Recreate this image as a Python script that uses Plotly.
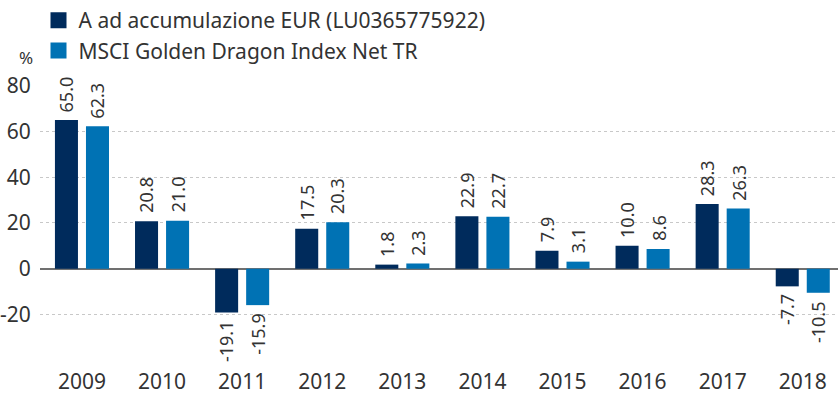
import plotly.graph_objects as go

years = ["2009", "2010", "2011", "2012", "2013", "2014", "2015", "2016", "2017", "2018"]
fund = [65.0, 20.8, -19.1, 17.5, 1.8, 22.9, 7.9, 10.0, 28.3, -7.7]
index = [62.3, 21.0, -15.9, 20.3, 2.3, 22.7, 3.1, 8.6, 26.3, -10.5]
series_names = ["A ad accumulazione EUR (LU0365775922)", "MSCI Golden Dragon Index Net TR"]
colors = ["#002b5c", "#0072b4"]
y_ticks = [-20, 0, 20, 40, 60, 80]

FONT = "Noto Sans"
TEXT = "#333333"
W, H = 838, 398
ML, MR, MT, MB = 40, 0, 84, 40

xpos = list(range(len(years)))

fig = go.Figure()
for k, (name, vals, col) in enumerate(zip(series_names, [fund, index], colors)):
    fig.add_trace(go.Bar(x=xpos, y=vals, name=name, showlegend=False,
                         marker=dict(color=col, line=dict(width=0))))
    # legend swatch
    fig.add_trace(go.Scatter(x=[None], y=[None], name=name, mode="markers",
                             legendgroup=f"g{k}",
                             marker=dict(symbol="square", size=16, color=col)))

# rotated value labels above / below each bar
annotations = []
for vals, dx in [(fund, -15.5), (index, 15.5)]:
    for i, v in zip(xpos, vals):
        pos = v >= 0
        annotations.append(dict(
            x=i, y=v, xref="x", yref="y", text=f"{v:.1f}", showarrow=False,
            textangle=-90, xshift=dx, yshift=6 if pos else -6,
            xanchor="center", yanchor="bottom" if pos else "top",
            font=dict(family=FONT, size=18, color=TEXT)))

annotations.append(dict(text="%", xref="paper", yref="paper",
                        x=(26 - ML) / (W - ML - MR), y=1 + (MT - 56) / (H - MT - MB),
                        xanchor="center", yanchor="middle", showarrow=False,
                        font=dict(size=17, color=TEXT)))

fig.update_layout(
    width=W, height=H,
    margin=dict(l=ML, r=MR, t=MT, b=MB),
    paper_bgcolor="white", plot_bgcolor="white",
    barmode="group", bargap=0.225, bargroupgap=0.258,
    font=dict(family=FONT, size=21, color=TEXT),
    showlegend=True,
    legend=dict(x=(38.5 - ML) / (W - ML - MR), xref="paper", y=1.0, yref="container",
                yanchor="top", xanchor="left", orientation="v",
                font=dict(size=21, color=TEXT), tracegroupgap=2,
                itemclick=False, traceorder="normal", bgcolor="rgba(0,0,0,0)"),
    xaxis=dict(type="linear", range=[-0.524, 9.44], tickvals=xpos, ticktext=years,
               showgrid=False, showline=False, zeroline=False, ticks="",
               tickfont=dict(size=21), ticklabelstandoff=9),
    yaxis=dict(range=[-39, 80], tickvals=y_ticks, ticktext=[str(t) for t in y_ticks],
               showgrid=True, gridcolor="#c8c8c8", griddash="dot", gridwidth=1,
               zeroline=True, zerolinecolor="#707070", zerolinewidth=2,
               showline=False, tickfont=dict(size=21),
               ticks="outside", ticklen=4, tickcolor="rgba(0,0,0,0)"),
    annotations=annotations,
)

fig.write_html("out.html")
